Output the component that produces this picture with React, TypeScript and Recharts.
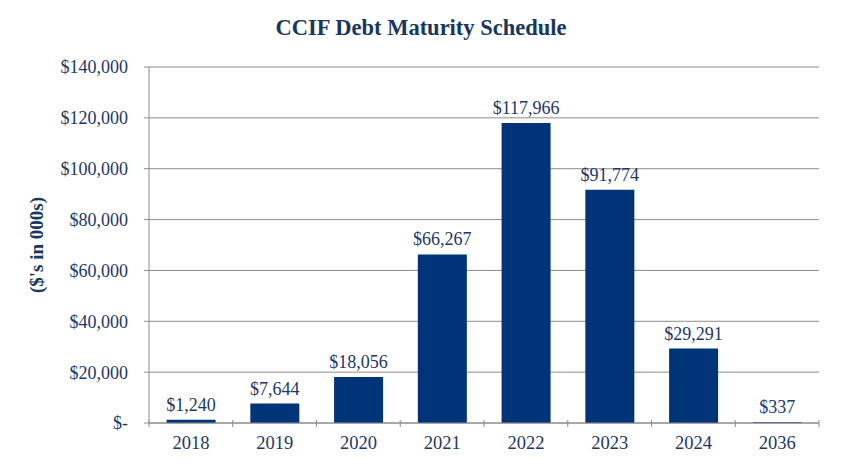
import { BarChart, Bar, XAxis, YAxis, CartesianGrid, LabelList } from "recharts";

const years = ["2018", "2019", "2020", "2021", "2022", "2023", "2024", "2036"];
const maturities = [1240, 7644, 18056, 66267, 117966, 91774, 29291, 337];
const yTicks = [0, 20000, 40000, 60000, 80000, 100000, 120000, 140000];

const data = years.map((year, i) => ({ year, amount: maturities[i] }));

const FONT = "'Liberation Serif', 'Times New Roman', serif";
const BAR = "#003478";
const TEXT = "#1c3867";
const AXIS = "#8c8c8c";

const money = (v: number) => (v === 0 ? "$-" : `$${v.toLocaleString("en-US")}`);

function YearTick(props: any) {
  const { x, y, payload, index, visibleTicksCount } = props;
  const half = payload?.offset || 41.9;
  const top = y - 11;
  return (
    <g>
      <line x1={x - half} x2={x - half} y1={top} y2={top + 7} stroke={AXIS} />
      {index === visibleTicksCount - 1 && (
        <line x1={x + half} x2={x + half} y1={top} y2={top + 7} stroke={AXIS} />
      )}
      <text x={x} y={y + 18} textAnchor="middle" fill={TEXT} style={{ fontSize: 18.5, fontFamily: FONT }}>
        {payload.value}
      </text>
    </g>
  );
}

export default function App() {
  return (
    <div
      style={{
        position: "absolute",
        left: 0,
        top: 0,
        width: 842,
        height: 469,
        background: "#fff",
        fontFamily: FONT,
      }}
    >
      <div
        style={{
          position: "absolute",
          top: 15,
          left: 0,
          width: 842,
          textAlign: "center",
          fontWeight: "bold",
          fontSize: 22.5,
          color: "#17375e",
        }}
      >
        CCIF Debt Maturity Schedule
      </div>
      <BarChart
        width={842}
        height={469}
        data={data}
        margin={{ top: 67, right: 23, bottom: 16, left: 0 }}
        barCategoryGap="21%"
        style={{ fontFamily: FONT }}
      >
        <CartesianGrid vertical={false} stroke={AXIS} />
        <XAxis
          dataKey="year"
          height={30}
          axisLine={{ stroke: AXIS }}
          tickLine={false}
          tick={<YearTick />}
          interval={0}
        />
        <YAxis
          width={149}
          domain={[0, 140000]}
          ticks={yTicks}
          interval={0}
          tickFormatter={money}
          axisLine={{ stroke: AXIS }}
          tickLine={{ stroke: AXIS }}
          tickSize={5}
          tickMargin={16}
          tick={{ fill: TEXT, fontSize: 18, style: { fontFamily: FONT } }}
          label={{
            value: "($'s in 000s)",
            angle: -90,
            position: "insideLeft",
            offset: 36,
            style: { fill: "#17375e", fontSize: 19, fontWeight: "bold", fontFamily: FONT, textAnchor: "middle" },
          }}
        />
        <Bar dataKey="amount" fill={BAR} isAnimationActive={false}>
          <LabelList
            dataKey="amount"
            position="top"
            offset={9}
            formatter={(v: any) => money(Number(v))}
            style={{ fill: TEXT, fontSize: 18, fontFamily: FONT }}
          />
        </Bar>
      </BarChart>
    </div>
  );
}
